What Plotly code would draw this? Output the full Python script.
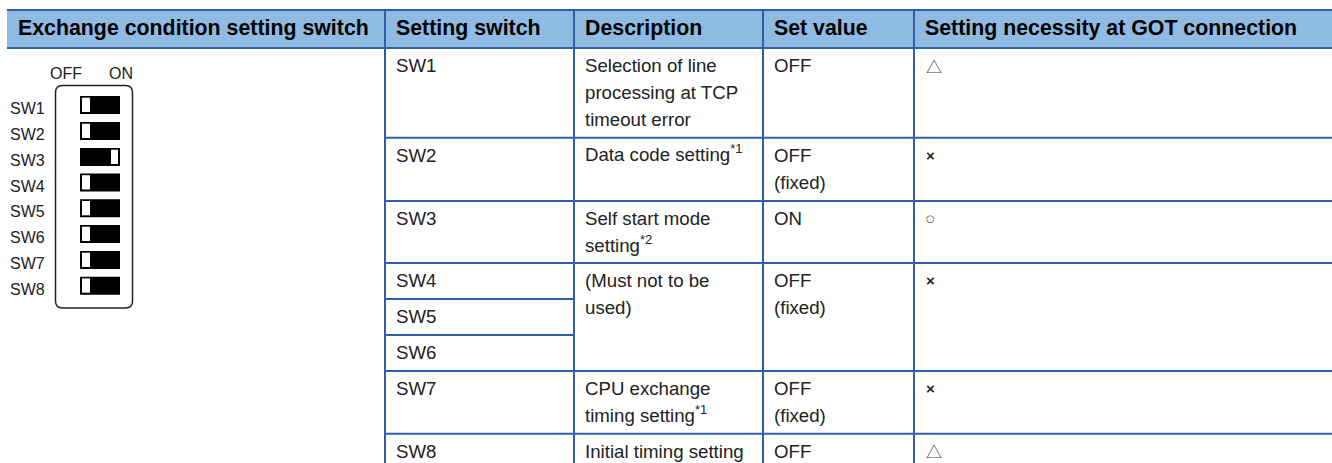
import plotly.graph_objects as go

# ---------- content ----------
headers = ["Exchange condition setting switch", "Setting switch", "Description", "Set value",
           "Setting necessity at GOT connection"]
switches = ["SW1", "SW2", "SW3", "SW4", "SW5", "SW6", "SW7", "SW8"]
switch_states = ["OFF", "OFF", "ON", "OFF", "OFF", "OFF", "OFF", "OFF"]
state_labels = ["OFF", "ON"]
descriptions = [["Selection of line", "processing at TCP", "timeout error"],
                ["Data code setting<sup>*1</sup>"],
                ["Self start mode", "setting<sup>*2</sup>"],
                ["(Must not to be", "used)"],
                ["CPU exchange", "timing setting<sup>*1</sup>"],
                ["Initial timing setting"]]
set_values = [["OFF"], ["OFF", "(fixed)"], ["ON"], ["OFF", "(fixed)"], ["OFF", "(fixed)"], ["OFF"]]
necessity = ["△", "×", "○", "×", "×", "△"]

# ---------- layout ----------
W, H = 1332, 463
BLUE, HEAD, INK = "#2d5fac", "#8fbbe2", "#222222"
RIGHT = 1332
col_x = [7, 385, 574, 763, 914, RIGHT]
head_y = (10, 48)
row_y = [48, 137.7, 201, 263, 299, 335, 371, 433.7]     # switch rows
desc_row = [0, 1, 2, 3, 6, 7]                            # first switch row of each merged block
sw_top = [96, 122, 148, 173.5, 199.3, 225, 251, 276.7]
BODY, BOLD = 18.67, 21.33
FONT = "Liberation Sans"

shapes, ann = [], []


def line(x0, y0, x1, y1):
    shapes.append(dict(type="line", x0=x0, y0=y0, x1=x1, y1=y1, line=dict(color=BLUE, width=2)))


def rect(x0, y0, x1, y1, fill):
    shapes.append(dict(type="rect", x0=x0, y0=y0, x1=x1, y1=y1, fillcolor=fill, line=dict(width=0)))


def text(x, y, s, size=BODY, color=INK, bold=False, family=FONT):
    if "<sup>" in s:
        y -= 2          # a superscript makes the annotation box taller, so re-centre the line
    ann.append(dict(x=x, y=y, text=f"<b>{s}</b>" if bold else s, showarrow=False, xanchor="left",
                    yanchor="middle", xref="x", yref="y", borderpad=0, borderwidth=0,
                    font=dict(family=family, size=size, color=color)))


# header
rect(col_x[0], head_y[0], col_x[-1], head_y[1], HEAD)
line(col_x[0], head_y[0], col_x[-1], head_y[0])
line(col_x[0], head_y[1], col_x[-1], head_y[1])
for i, h in enumerate(headers):
    text(col_x[i] + 11, 28, h, size=BOLD, color="#000000", bold=True)

# grid
for x in col_x[1:-1]:
    line(x, head_y[0], x, H)
for j, y in enumerate(row_y[1:], start=1):
    merged = j in (4, 5)
    line(col_x[1], y, col_x[2] if merged else col_x[-1], y)

# cells
LH, OFS = 27, 17.5
for j, s in enumerate(switches):
    text(col_x[1] + 10.5, row_y[j] + OFS, s)
for k, r in enumerate(desc_row):
    for n, t in enumerate(descriptions[k]):
        text(col_x[2] + 10.5, row_y[r] + OFS + n * LH, t)
    for n, t in enumerate(set_values[k]):
        text(col_x[3] + 10.5, row_y[r] + OFS + n * LH, t)
    sym = necessity[k]
    if sym == "△":
        text(col_x[4] + 11.5, row_y[r] + OFS, sym, size=16, family="Noto Sans CJK JP", color="#444444")
    elif sym == "×":
        text(col_x[4] + 11.5, row_y[r] + OFS, sym, size=15, bold=True)
    else:
        text(col_x[4] + 12, row_y[r] + OFS, sym, size=10, family="DejaVu Sans", color="#444444")

# DIP switch drawing
fx0, fx1, fy0, fy1, rad = 55.5, 132.5, 85.5, 308, 7
shapes.append(dict(type="path", line=dict(color="#222222", width=1.5),
                   path=(f"M {fx0+rad} {fy0} L {fx1-rad} {fy0} Q {fx1} {fy0} {fx1} {fy0+rad} "
                         f"L {fx1} {fy1-rad} Q {fx1} {fy1} {fx1-rad} {fy1} L {fx0+rad} {fy1} "
                         f"Q {fx0} {fy1} {fx0} {fy1-rad} L {fx0} {fy0+rad} Q {fx0} {fy0} {fx0+rad} {fy0} Z")))
text(50, 73, state_labels[0], size=16)
text(109, 73, state_labels[1], size=16)
for s, st, top in zip(switches, switch_states, sw_top):
    rect(80, top, 120, top + 18, "#000000")
    if st == "OFF":
        rect(82, top + 1.7, 90, top + 16, "#ffffff")
    else:
        rect(111, top + 1.7, 118, top + 16, "#ffffff")
    text(9.5, top + 12.5, s, size=16)

fig = go.Figure()
fig.update_layout(width=W, height=H, margin=dict(l=0, r=0, t=0, b=0), showlegend=False,
                  paper_bgcolor="white", plot_bgcolor="white", shapes=shapes, annotations=ann,
                  xaxis=dict(range=[0, W], visible=False, fixedrange=True),
                  yaxis=dict(range=[H, 0], visible=False, fixedrange=True))
fig.write_html("out.html", include_plotlyjs=True, config={"displayModeBar": False},
               post_script="document.body.style.margin='0';document.body.style.overflow='hidden';")
